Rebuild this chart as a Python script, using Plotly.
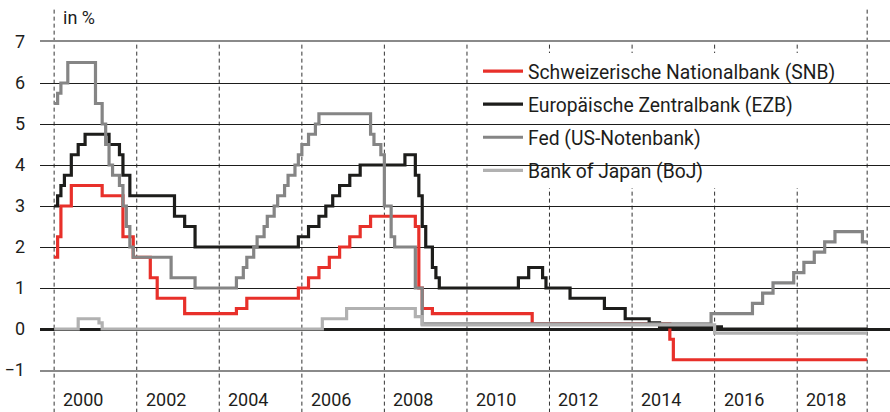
import plotly.graph_objects as go

END = "2019-09-12"

snb_dates = ["2000-01-01", "2000-02-01", "2000-03-01", "2000-06-01", "2001-03-01", "2001-09-01",
             "2001-12-01", "2002-05-01", "2002-07-01", "2003-03-01", "2004-06-01", "2004-09-01",
             "2005-12-01", "2006-03-01", "2006-06-01", "2006-09-01", "2006-12-01", "2007-03-01",
             "2007-06-01", "2007-09-01", "2008-10-01", "2008-11-01", "2008-12-01", "2009-03-01",
             "2011-08-01", "2014-12-01", "2015-01-01", END]
snb_vals = [1.75, 2.25, 3.0, 3.5, 3.25, 2.25, 1.75, 1.25, 0.75, 0.375, 0.5, 0.75,
            1.0, 1.25, 1.5, 1.75, 2.0, 2.25, 2.5, 2.75, 2.5, 1.0, 0.5, 0.375,
            0.125, -0.25, -0.75, -0.75]

ezb_dates = ["2000-01-01", "2000-02-01", "2000-03-01", "2000-04-01", "2000-06-01", "2000-08-01",
             "2000-10-01", "2001-05-01", "2001-08-01", "2001-09-01", "2001-11-01", "2002-12-01",
             "2003-03-01", "2003-06-01", "2005-12-01", "2006-03-01", "2006-06-01", "2006-08-01",
             "2006-10-01", "2006-12-01", "2007-03-01", "2007-06-01", "2008-07-01", "2008-10-01",
             "2008-11-01", "2008-12-01", "2009-01-01", "2009-03-01", "2009-04-01", "2009-05-01",
             "2011-04-01", "2011-07-01", "2011-11-01", "2011-12-01", "2012-07-01", "2013-05-01",
             "2013-11-01", "2014-06-01", "2014-09-01", "2016-03-01", END]
ezb_vals = [3.0, 3.25, 3.5, 3.75, 4.25, 4.5, 4.75, 4.5, 4.25, 3.75, 3.25, 2.75,
            2.5, 2.0, 2.25, 2.5, 2.75, 3.0, 3.25, 3.5, 3.75, 4.0, 4.25, 3.75,
            3.25, 2.5, 2.0, 1.5, 1.25, 1.0, 1.25, 1.5, 1.25, 1.0, 0.75, 0.5,
            0.25, 0.15, 0.05, 0.0, 0.0]

fed_dates = ["2000-01-01", "2000-02-01", "2000-03-01", "2000-05-01", "2001-01-01", "2001-03-01",
             "2001-04-01", "2001-05-01", "2001-06-01", "2001-08-01", "2001-09-01", "2001-10-01",
             "2001-11-01", "2001-12-01", "2002-11-01", "2003-06-01", "2004-06-01", "2004-08-01",
             "2004-09-01", "2004-11-01", "2004-12-01", "2005-02-01", "2005-03-01", "2005-05-01",
             "2005-06-01", "2005-08-01", "2005-09-01", "2005-11-01", "2005-12-01", "2006-01-01",
             "2006-03-01", "2006-05-01", "2006-06-01", "2007-09-01", "2007-10-01", "2007-12-01",
             "2008-01-01", "2008-03-01", "2008-04-01", "2008-10-01", "2008-12-01", "2015-12-01",
             "2016-12-01", "2017-03-01", "2017-06-01", "2017-12-01", "2018-03-01", "2018-06-01",
             "2018-09-01", "2018-12-01", "2019-08-01", END]
fed_vals = [5.5, 5.75, 6.0, 6.5, 5.5, 5.0, 4.5, 4.0, 3.75, 3.5, 3.0, 2.5,
            2.0, 1.75, 1.25, 1.0, 1.25, 1.5, 1.75, 2.0, 2.25, 2.5, 2.75, 3.0,
            3.25, 3.5, 3.75, 4.0, 4.25, 4.5, 4.75, 5.0, 5.25, 4.75, 4.5, 4.25,
            3.0, 2.25, 2.0, 1.0, 0.125, 0.375, 0.625, 0.875, 1.125, 1.375, 1.625, 1.875,
            2.125, 2.375, 2.125, 2.125]

boj_dates = ["2000-01-01", "2000-08-01", "2001-02-01", "2001-03-01", "2006-07-01", "2007-02-01",
             "2008-10-01", "2008-12-01", "2016-01-01", END]
boj_vals = [0.0, 0.25, 0.15, 0.0, 0.25, 0.5, 0.3, 0.1, -0.1, -0.1]

series_names = ["Schweizerische Nationalbank (SNB)", "Europäische Zentralbank (EZB)",
                "Fed (US-Notenbank)", "Bank of Japan (BoJ)"]
series_colors = ["#e8302a", "#1d1d1b", "#858585", "#b1b1b1"]

y_ticks = [-1, 0, 1, 2, 3, 4, 5, 6, 7]
year_labels = ["2000", "2002", "2004", "2006", "2008", "2010", "2012", "2014", "2016", "2018"]

FONT = "Roboto, Arial, sans-serif"
TXT = "#1d1d1b"

fig = go.Figure()
for d, v, n, c in zip([snb_dates, ezb_dates, fed_dates, boj_dates],
                      [snb_vals, ezb_vals, fed_vals, boj_vals], series_names, series_colors):
    fig.add_trace(go.Scatter(x=d, y=v, name=n, mode="lines",
                             line=dict(color=c, width=3.2, shape="hv"),
                             legendgroup=n))

shapes = []
for y in year_labels:
    shapes.append(dict(type="line", xref="x", yref="paper", x0=f"{y}-01-01", x1=f"{y}-01-01",
                       y0=-0.13, y1=1, line=dict(color="#333333", width=1, dash="4px,3px"),
                       layer="between"))
# the first and last dashed lines reach above the top line
shapes[0]["y1"] = 1.107
shapes.append(dict(type="line", xref="x", yref="paper", x0=END, x1=END, y0=-0.13, y1=1.107,
                   line=dict(color="#333333", width=1, dash="4px,3px"), layer="between"))
# white panel behind the legend
shapes.append(dict(type="rect", xref="paper", yref="paper", x0=0.5118, x1=0.9624,
                   y0=0.555, y1=0.9665, fillcolor="white", line=dict(width=0), layer="between"))

annotations = [dict(text="in %", xref="paper", yref="paper", x=0.025, y=1.0, yshift=25,
                    xanchor="left", yanchor="middle", showarrow=False,
                    font=dict(family=FONT, size=18, color=TXT))]
for y in year_labels:
    annotations.append(dict(text=y, xref="x", yref="paper", x=f"{y}-01-01", y=0, yshift=-29,
                            xshift=7, xanchor="left", yanchor="middle", showarrow=False,
                            font=dict(family=FONT, size=18, color=TXT)))

fig.update_layout(
    width=890, height=412,
    margin=dict(l=40, r=0, t=42, b=42, autoexpand=False),
    paper_bgcolor="white", plot_bgcolor="white",
    font=dict(family=FONT, size=18, color=TXT),
    showlegend=True,
    legend=dict(x=0.5153, y=0.9695, xanchor="left", yanchor="top", bgcolor="rgba(0,0,0,0)",
                borderwidth=0, tracegroupgap=5, itemwidth=40,
                font=dict(family=FONT, size=19.3, color=TXT)),
    shapes=shapes,
    annotations=annotations,
    xaxis=dict(type="date", range=["1999-08-29", "2020-04-01"], showgrid=False,
               showticklabels=False, zeroline=False, showline=True, mirror=True,
               linecolor="#8a8a8a", linewidth=1.5, ticks="", automargin=False),
    yaxis=dict(range=[-1, 7], tickvals=y_ticks, showgrid=True, gridcolor=TXT, gridwidth=1,
               zeroline=True, zerolinecolor=TXT, zerolinewidth=2.5, showline=False,
               ticks="", ticklabelstandoff=14, automargin=False,
               tickfont=dict(family=FONT, size=18, color=TXT)),
)

fig.write_html("out.html", config={"displayModeBar": False},
               post_script="document.body.style.margin='0';")
